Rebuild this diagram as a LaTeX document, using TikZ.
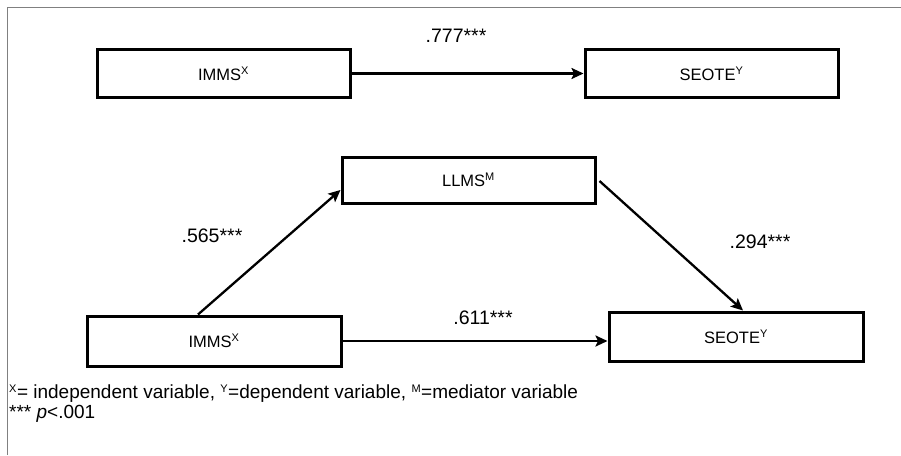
\documentclass[tikz,border=0pt]{standalone}
\usepackage{fontspec}
\setmainfont{Liberation Sans}
\usetikzlibrary{arrows.meta,calc}
\begin{document}
\begin{tikzpicture}[x=1pt,y=-1pt,
 box/.style={draw=black,line width=3pt,minimum width=253pt,minimum height=48pt,inner sep=0pt,font=\fontsize{16.5}{18}\selectfont},
 conn/.style={line width=2.3pt,-{Stealth[length=12pt,width=11pt,inset=2.5pt]}},
 lab/.style={font=\fontsize{19.5}{21}\selectfont,inner sep=0pt},
 legend/.style={font=\fontsize{19}{20}\selectfont,inner sep=0pt,anchor=west},
 frame/.style={draw=gray,line width=1.8pt}]
\useasboundingbox (0,0) rectangle (901,455);
\draw[frame] (7.5,455) -- (7.5,7.5) -- (901,7.5);
\newcommand{\sps}[1]{\textsuperscript{\fontsize{11}{11}\selectfont #1}}
\node[box] (imms1) at (223.5,73.5) {IMMS\sps{X}};
\node[box] (seote1) at (711.5,73.5) {SEOTE\sps{Y}};
\node[box,minimum height=46pt] (llms) at (468.5,180) {LLMS\sps{M}};
\node[box,minimum width=254pt,minimum height=50pt] (imms2) at (214,341) {IMMS\sps{X}};
\node[box,minimum width=254pt,minimum height=49pt] (seote2) at (736,336.5) {SEOTE\sps{Y}};
\draw[conn] (imms1) -- (seote1);
\draw[conn] (imms2.east) -- (imms2.east -| seote2.west);
\draw[conn] ($(imms2.north)+(-16,0)$) -- ($(llms.west)+(0,10)$);
\draw[conn] ($(llms.east)+(3,1)$) -- ($(seote2.north)+(7,0)$);
\node[lab] (l1) at (456,36) {.777***};
\node[lab] (l2) at (212,236) {.565***};
\node[lab] (l3) at (760,242) {.294***};
\node[lab] (l4) at (483,318) {.611***};
\node[legend] (g1) at (9,394) {\sps{X}= independent variable, \sps{Y}=dependent variable, \sps{M}=mediator variable};
\node[legend] (g2) at (9,414) {*** \textit{p}<.001};
\end{tikzpicture}
\end{document}
